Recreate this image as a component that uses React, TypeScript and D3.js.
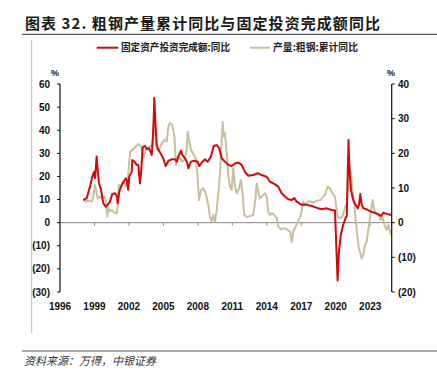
import React from "react";
import * as d3 from "d3";

const leftTicks = [60, 50, 40, 30, 20, 10, 0, -10, -20, -30];
const rightTicks = [40, 30, 20, 10, 0, -10, -20];
const yearTicks = [1996, 1999, 2002, 2005, 2008, 2011, 2014, 2017, 2020, 2023];

const faiYears = [1998.03, 1998.32, 1998.61, 1998.81, 1998.96, 1999.05, 1999.19, 1999.28, 1999.39, 1999.57, 1999.77, 1999.98, 2000.15, 2000.35, 2000.55, 2000.79, 2000.96, 2001.02, 2001.16, 2001.37, 2001.6, 2001.74, 2001.8, 2001.94, 2002.03, 2002.24, 2002.29, 2002.47, 2002.68, 2002.81, 2002.96, 2003.05, 2003.2, 2003.4, 2003.57, 2003.75, 2003.98, 2004.07, 2004.16, 2004.21, 2004.29, 2004.42, 2004.56, 2004.7, 2004.99, 2005.2, 2005.43, 2005.72, 2006.01, 2006.16, 2006.3, 2006.53, 2006.64, 2006.88, 2007.05, 2007.17, 2007.4, 2007.69, 2007.98, 2008.12, 2008.33, 2008.62, 2008.85, 2009.14, 2009.38, 2009.64, 2009.86, 2010.07, 2010.36, 2010.65, 2010.94, 2011.23, 2011.52, 2011.81, 2012.1, 2012.39, 2012.82, 2013.21, 2013.55, 2013.99, 2014.28, 2014.65, 2015.0, 2015.29, 2015.58, 2015.87, 2016.17, 2016.39, 2016.6, 2017.04, 2017.47, 2017.91, 2018.19, 2018.48, 2018.78, 2019.21, 2019.65, 2019.93, 2020.16, 2020.27, 2020.44, 2020.64, 2020.85, 2020.96, 2021.11, 2021.2, 2021.32, 2021.52, 2021.73, 2021.91, 2022.02, 2022.14, 2022.26, 2022.4, 2022.69, 2023.07, 2023.35, 2023.65, 2023.94, 2024.14, 2024.43, 2024.81];
const faiValues = [9.8, 10.6, 15.6, 19.9, 22, 19.3, 28.6, 22.8, 17.2, 14.2, 8.4, 6.9, 7.7, 9.1, 12.4, 12.7, 11.3, 8.4, 13.4, 16.3, 18.2, 19.2, 18.5, 14.2, 19.9, 22, 27.1, 26.4, 25, 25, 17, 21.4, 32.6, 33.2, 31.8, 32.2, 29.3, 35.8, 45.9, 53.9, 44.5, 33.6, 31.5, 30.5, 27.9, 24.5, 26.7, 27.4, 27.4, 26.4, 28.6, 31.2, 29.3, 27.9, 26.4, 23.5, 26.4, 26.8, 26.4, 24.5, 26, 27.4, 26.4, 28.6, 33.2, 33.6, 32.2, 27.9, 26.4, 25, 24.5, 25.6, 26, 25, 22, 20.3, 20.6, 21.4, 20.6, 19.9, 17.7, 16.8, 15.6, 12.7, 11.3, 10.1, 9.8, 10.6, 9.1, 7.7, 7.7, 7.2, 6.7, 6.2, 5.8, 6.2, 5.5, 5.4, -25, -13, -5.3, -1, 1.9, 2.9, 35.8, 22.8, 14.2, 9.8, 7.7, 6.2, 7.7, 12.4, 7.7, 6.2, 5.8, 4.8, 4.3, 3.8, 2.9, 4.3, 3.8, 3.3];

const steelYears = [1998.03, 1998.18, 1998.46, 1998.76, 1998.9, 1999.05, 1999.13, 1999.28, 1999.48, 1999.63, 1999.86, 1999.98, 2000.12, 2000.2, 2000.35, 2000.5, 2000.73, 2000.93, 2001.02, 2001.13, 2001.31, 2001.51, 2001.72, 2001.89, 2002.01, 2002.12, 2002.38, 2002.59, 2002.81, 2003.05, 2003.25, 2003.46, 2003.75, 2004.03, 2004.21, 2004.29, 2004.42, 2004.62, 2004.85, 2005.08, 2005.29, 2005.43, 2005.57, 2005.77, 2005.95, 2006.1, 2006.24, 2006.44, 2006.64, 2006.82, 2007.03, 2007.11, 2007.23, 2007.4, 2007.6, 2007.81, 2007.98, 2008.1, 2008.27, 2008.47, 2008.68, 2008.91, 2009.05, 2009.2, 2009.34, 2009.49, 2009.64, 2009.78, 2009.93, 2010.07, 2010.16, 2010.27, 2010.36, 2010.51, 2010.65, 2010.8, 2010.94, 2011.08, 2011.23, 2011.38, 2011.58, 2011.75, 2011.87, 2012.04, 2012.25, 2012.54, 2012.82, 2013.03, 2013.12, 2013.26, 2013.41, 2013.55, 2013.84, 2013.99, 2014.13, 2014.28, 2014.48, 2014.65, 2014.86, 2015.0, 2015.23, 2015.52, 2015.82, 2016.02, 2016.17, 2016.3, 2016.45, 2016.74, 2016.97, 2017.17, 2017.32, 2017.61, 2017.85, 2018.05, 2018.34, 2018.63, 2018.78, 2019.06, 2019.3, 2019.5, 2019.7, 2019.93, 2020.17, 2020.37, 2020.57, 2020.8, 2020.95, 2021.09, 2021.21, 2021.33, 2021.44, 2021.61, 2021.74, 2021.85, 2022.02, 2022.26, 2022.4, 2022.54, 2022.69, 2022.83, 2022.98, 2023.13, 2023.22, 2023.31, 2023.48, 2023.7, 2023.91, 2024.05, 2024.29, 2024.43, 2024.57, 2024.81];
const steelValues = [7.0, 6.1, 6.3, 6.1, 7.5, 10.9, 9.4, 7.0, 7.5, 7.0, 7.5, 6.5, 1.7, 4.2, 3.2, 3.7, 2.9, 2.7, 4.6, 10.9, 10.4, 11.8, 10.4, 11.4, 17.1, 20.5, 21.2, 21.9, 22.7, 22.1, 18.6, 21.2, 21.9, 22.4, 27.7, 25.8, 21.2, 21, 22.9, 23.9, 23.4, 27.7, 28.7, 28.2, 25.3, 16.6, 19.0, 18.6, 17.6, 18.1, 21, 26.2, 23.9, 21, 20.0, 18.6, 13.3, 6.5, 9.4, 9.9, 8.5, 5.1, 1.7, 0.3, 2.2, 0.3, 3.7, 8.5, 14.2, 23.9, 29.1, 24.8, 25.8, 20.0, 13.3, 10.4, 9.4, 15.7, 10.4, 8.5, 9.9, 12.3, 8.9, 2.2, 1.6, 1.9, 2.2, 7.5, 11.4, 8.9, 7.0, 7.5, 8.5, 7.5, 3.2, 2.2, 2.7, 2.2, 1.3, -1.2, -1.9, -1.6, -2.1, -2.6, -5.5, -2.6, -1.6, 0.6, 2.2, 6.1, 5.1, 6.1, 6.1, 5.8, 6.3, 6.5, 7.0, 8.0, 10.4, 9.9, 8.5, 7.5, 1.7, 1.3, 1.7, 4.2, 5.6, 11.4, 16.2, 14.2, 9.4, 5.6, 0.8, -3.1, -7.4, -10.3, -9.3, -6.4, -5.5, -2.1, 1.3, 5.1, 6.5, 4.2, 2.7, 2.2, 0.8, 1.7, -1.2, -2.1, -0.7, -3.5];

const legendLabels = ["固定资产投资完成额:同比", "产量:粗钢:累计同比"];
const title = "图表  32. 粗钢产量累计同比与固定投资完成额同比";
const source = "资料来源：万得，中银证券";

const RED = "#d10a0a";
const TAN = "#c9bf9c";

export default function App() {
  const W = 437, H = 381;
  const x0 = 60, x1 = 391.7, yTop = 84, yBot = 292;
  const x = d3.scaleLinear().domain([1996, 2024.87]).range([x0, x1]);
  const yL = d3.scaleLinear().domain([-30, 60]).range([yBot, yTop]);
  const yR = d3.scaleLinear().domain([-20, 40]).range([yBot, yTop]);
  const fmt = (v: number) => (v < 0 ? `(${-v})` : `${v}`);

  const redPath = d3.line<number>().x((_, i) => x(faiYears[i])).y((d) => yL(d))(faiValues) || "";
  const tanPath = d3.line<number>().x((_, i) => x(steelYears[i])).y((d) => yR(d))(steelValues) || "";
  const num = { fontFamily: "'Liberation Sans', Arial, sans-serif", fontWeight: 700, fontSize: 10, fill: "#111" } as const;
  const cjk = "'Noto Sans CJK SC', sans-serif";

  return (
    <svg width={W} height={H} style={{ position: "absolute", left: 0, top: 0, background: "#fff" }}>
      <text x={25} y={29} fontFamily={cjk} fontWeight={700} fontSize={15} fill="#1a1a1a" textLength={355} lengthAdjust="spacing">{title}</text>
      <line x1={22} x2={437} y1={34.3} y2={34.3} stroke="#555" strokeWidth={1.2} />
      <line x1={31.7} x2={31.7} y1={40} y2={333} stroke="#bbb" strokeWidth={1} />
      <line x1={22} x2={437} y1={351} y2={351} stroke="#555" strokeWidth={1.2} />
      <text x={24} y={365} fontFamily={cjk} fontStyle="italic" fontSize={11} fill="#333">{source}</text>

      {/* legend */}
      <line x1={96.7} x2={118.3} y1={47.7} y2={47.7} stroke={RED} strokeWidth={2} />
      <text x={121} y={51.3} fontFamily={cjk} fontWeight={700} fontSize={10} fill="#222" textLength={109} lengthAdjust="spacingAndGlyphs">{legendLabels[0]}</text>
      <line x1={250} x2={270} y1={47.7} y2={47.7} stroke={TAN} strokeWidth={2} />
      <text x={273} y={51.3} fontFamily={cjk} fontWeight={700} fontSize={10} fill="#222" textLength={85} lengthAdjust="spacingAndGlyphs">{legendLabels[1]}</text>

      {/* zero line */}
      <line x1={x0} x2={x1} y1={yL(0)} y2={yL(0)} stroke="#888" strokeWidth={1} />
      {yearTicks.slice(1).map((t) => (
        <line key={t} x1={x(t)} x2={x(t)} y1={yL(0)} y2={yL(0) + 3} stroke="#888" strokeWidth={1} />
      ))}

      {/* series */}
      <path d={tanPath} fill="none" stroke={TAN} strokeWidth={2} strokeLinejoin="round" />
      <path d={redPath} fill="none" stroke={RED} strokeWidth={2} strokeLinejoin="round" />

      {/* left axis */}
      <line x1={x0} x2={x0} y1={yTop} y2={yBot} stroke="#111" strokeWidth={1.2} />
      {leftTicks.map((t) => (
        <g key={t}>
          <line x1={x0 - 3} x2={x0} y1={yL(t)} y2={yL(t)} stroke="#111" strokeWidth={1} />
          <text x={50} y={yL(t) + 3.5} textAnchor="end" {...num}>{fmt(t)}</text>
        </g>
      ))}
      <text x={55} y={76} textAnchor="middle" {...num} fontSize={9}>%</text>

      {/* right axis */}
      <line x1={x1} x2={x1} y1={yTop} y2={yBot} stroke="#111" strokeWidth={1.2} />
      {rightTicks.map((t) => (
        <g key={t}>
          <line x1={x1} x2={x1 + 3} y1={yR(t)} y2={yR(t)} stroke="#111" strokeWidth={1} />
          <text x={398} y={yR(t) + 3.5} textAnchor="start" {...num}>{fmt(t)}</text>
        </g>
      ))}
      <text x={391} y={76} textAnchor="middle" {...num} fontSize={9}>%</text>

      {/* x labels */}
      {yearTicks.map((t) => (
        <text key={t} x={x(t)} y={309.5} textAnchor="middle" {...num}>{t}</text>
      ))}
    </svg>
  );
}
